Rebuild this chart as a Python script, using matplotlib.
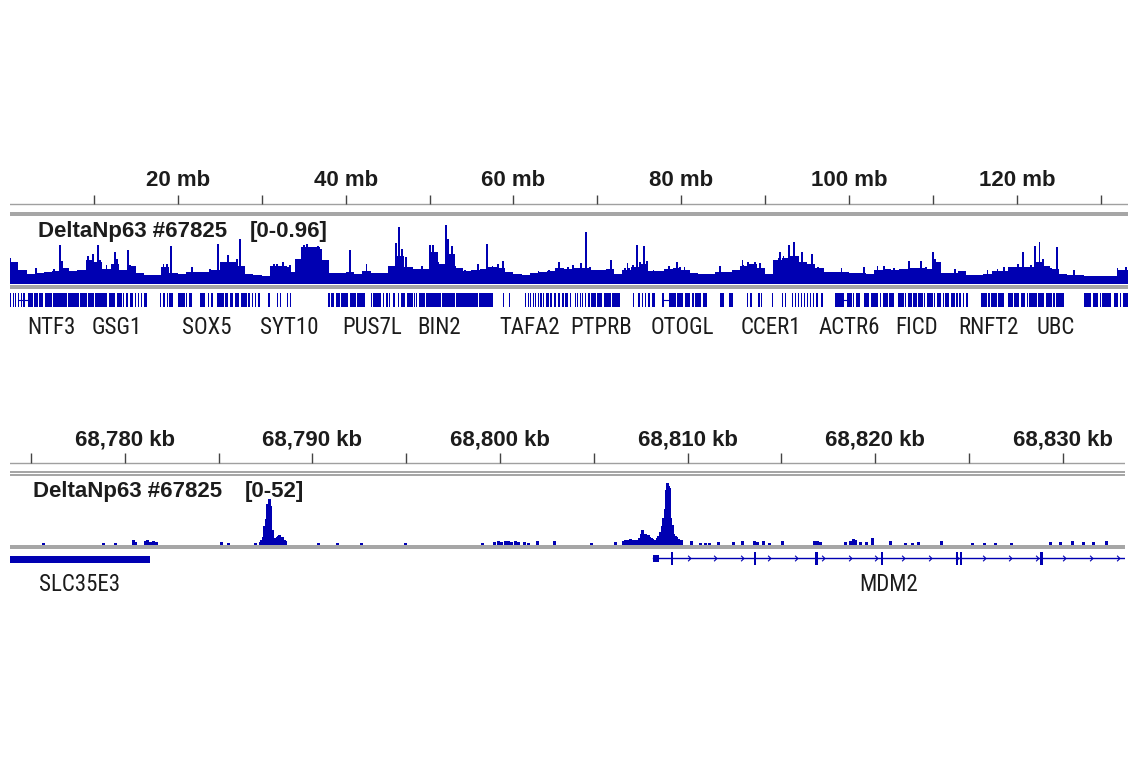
import numpy as np
import matplotlib
matplotlib.use("Agg")
import matplotlib.pyplot as plt
from matplotlib import font_manager as fm
from matplotlib.path import Path

# ---------------- data ----------------
CHROM_LEN_MB = 133.275
# coarse signal (1 Mb bins), DeltaNp63 #67825 [0-0.96]
wide_bins_mb = list(range(134))
wide_vals = [.33, .21, .15, .17, .18, .20, .24, .20, .21, .36,
             .33, .23, .30, .21, .27, .17, .14, .14, .26, .17,
             .15, .18, .18, .18, .21, .33, .33, .27, .15, .14,
             .12, .27, .27, .18, .38, .56, .56, .36, .17, .17,
             .18, .15, .20, .17, .17, .27, .42, .26, .23, .23,
             .48, .30, .45, .24, .20, .21, .23, .26, .24, .18,
             .15, .14, .17, .18, .20, .24, .23, .24, .24, .21,
             .21, .23, .15, .21, .26, .30, .20, .20, .23, .24,
             .21, .17, .15, .15, .18, .18, .21, .27, .30, .24,
             .15, .36, .39, .42, .33, .30, .24, .18, .18, .18,
             .17, .17, .15, .21, .23, .21, .23, .24, .24, .23,
             .33, .17, .17, .20, .14, .14, .15, .20, .20, .26,
             .26, .26, .33, .27, .23, .15, .14, .14, .12, .12,
             .12, .12, .21, .21]
# narrow peaks on top of the coarse signal
peak_pos_mb = [0.0, 0.8, 3.1, 5.2, 5.95, 6.2, 8.3, 9.3, 9.9, 10.5, 10.7, 11.5, 12.5, 12.8,
               14.05, 14.3, 18.3, 18.7, 19.2, 21.7, 23.8, 24.8, 25.1, 26.0, 26.5, 27.05,
               27.4, 31.5, 31.8, 32.5, 33.1, 33.4, 34.8, 35.0, 35.4, 36.0, 36.7, 37.05,
               40.5, 42.5, 45.8, 46.0, 46.4, 46.75, 47.2, 48.3, 49.1, 50.1, 50.4, 51.0,
               51.5, 52.0, 52.2, 52.7, 53.0, 54.2, 55.8, 56.9, 57.5, 58.2, 58.8, 63.0,
               64.2, 65.4, 66.5, 67.1, 68.1, 68.65, 69.1, 71.6, 73.3, 73.6, 73.8, 74.3,
               74.7, 75.1, 75.6, 75.9, 76.7, 78.5, 79.5, 79.9, 80.4, 84.6, 87.3, 87.4,
               88.0, 88.8, 89.4, 91.6, 91.8, 92.2, 92.6, 92.85, 93.2, 93.4, 94.4, 94.8,
               95.6, 96.3, 99.1, 101.8, 103.4, 104.2, 105.4, 106.2, 107.2, 108.6, 109.2,
               110.0, 110.3, 112.6, 116.5, 117.7, 118.5, 119.3, 120.1, 120.7, 121.7,
               122.2, 122.7, 123.1, 124.1, 124.8, 126.8, 132.0, 133.0]
peak_vals = [.39, .27, .24, .23, .59, .35, .21, .42, .45, .59, .36, .29, .48, .38,
             .51, .29, .30, .30, .57, .26, .23, .60, .33, .44, .33, .38,
             .68, .30, .30, .33, .26, .29, .56, .59, .60, .54, .57, .53,
             .51, .30, .27, .62, .86, .53, .41, .23, .27, .59, .59, .33,
             .27, .89, .68, .57, .27, .21, .30, .60, .27, .30, .35, .20,
             .21, .33, .26, .29, .32, .78, .26, .36, .24, .32, .24, .29,
             .59, .33, .57, .35, .21, .27, .33, .26, .26, .27, .36, .29,
             .33, .33, .32, .39, .48, .42, .39, .59, .41, .63, .48, .30,
             .45, .26, .24, .26, .27, .27, .24, .23, .35, .35, .26,
             .48, .38, .23, .21, .23, .26, .26, .30, .48, .29,
             .57, .63, .38, .24, .56, .21, .24, .26]

# gene features on chr12 (Mb)
gene_blocks_mb = [
    (0.0, 0.15), (0.3, 0.45), (0.6, 0.75), (0.9, 1.1), (1.3, 1.45), (1.6, 1.75), (2.2, 2.7),
    (2.85, 3.3), (3.45, 3.9), (4.2, 5.0), (5.15, 6.8), (6.9, 8.2), (8.35, 9.2), (9.3, 10.0),
    (10.1, 11.6), (11.75, 12.5), (12.8, 13.3), (13.45, 13.6), (13.8, 14.1), (14.3, 14.7),
    (14.9, 15.05), (15.25, 15.4), (15.6, 15.75), (16.0, 16.3),
    (17.9, 18.05), (18.2, 18.5), (18.7, 18.85), (19.0, 19.4), (20.0, 20.9), (21.0, 21.1),
    (21.35, 21.7), (22.6, 23.2), (23.6, 23.75), (23.9, 24.2), (24.7, 25.5), (25.65, 26.0),
    (26.2, 26.6), (26.8, 27.3), (27.5, 28.2), (28.4, 28.55), (28.8, 28.95), (29.2, 29.35),
    (29.6, 29.75), (30.1, 30.2), (30.7, 31.0), (31.8, 31.9), (32.2, 32.3), (32.6, 32.7),
    (33.0, 33.1), (33.4, 33.5), (33.8, 33.9),
    (37.9, 38.1), (38.3, 38.6), (38.8, 39.3), (39.45, 40.3), (40.5, 41.2), (41.4, 42.3),
    (43.0, 43.15), (43.3, 44.2), (44.4, 44.55), (44.8, 45.0), (45.2, 45.35), (45.6, 45.9),
    (46.2, 46.35), (46.6, 47.1), (47.3, 48.0), (48.1, 48.25), (48.4, 48.55), (48.7, 49.5),
    (49.6, 51.4), (51.5, 53.0), (53.1, 54.3), (54.4, 55.8), (55.9, 57.6), (58.8, 58.9),
    (59.45, 59.55),
    (61.4, 61.55), (61.7, 61.85), (62.0, 62.15), (62.3, 62.45), (62.6, 62.75), (62.9, 63.05),
    (63.2, 63.35), (63.5, 63.7), (63.85, 64.2), (64.4, 64.6), (64.8, 65.1), (65.3, 65.6),
    (65.8, 66.0), (66.2, 66.5), (66.7, 66.9),
    (67.3, 67.45), (67.6, 67.75), (67.9, 68.05), (68.2, 68.35), (68.5, 68.7), (68.85, 69.15),
    (69.3, 69.8), (70.0, 70.6), (70.8, 71.6), (71.8, 72.7),
    (74.3, 74.4), (74.9, 75.05), (75.3, 75.5), (75.7, 75.85), (76.1, 76.3), (76.5, 76.9),
    (77.7, 77.9), (78.6, 79.4), (79.55, 80.2), (80.4, 81.1), (81.3, 81.5), (81.7, 82.4),
    (82.6, 83.1), (84.6, 85.1), (85.7, 86.2), (87.8, 88.0), (88.2, 88.4), (89.2, 89.35),
    (89.5, 89.6), (90.8, 90.9),
    (92.0, 92.1), (92.4, 92.5), (92.8, 92.9), (93.2, 93.35), (93.6, 93.7), (93.95, 94.1),
    (94.3, 94.45), (94.65, 94.8), (95.0, 95.15), (95.35, 95.5), (95.7, 95.85), (96.1, 96.25),
    (96.7, 96.9),
    (98.3, 99.4), (99.8, 100.4), (100.5, 100.65), (100.8, 101.3), (101.5, 101.6),
    (101.8, 102.4), (102.6, 103.5), (103.7, 103.85), (104.0, 104.6), (104.8, 105.4),
    (105.8, 106.5), (106.65, 106.8), (107.0, 107.5), (107.65, 108.1), (108.2, 108.8),
    (108.95, 109.1), (109.3, 110.0), (110.15, 110.3), (110.5, 111.0), (111.15, 111.3),
    (111.5, 111.9), (112.1, 112.6), (112.8, 112.95), (113.1, 113.4), (113.6, 113.75),
    (113.9, 114.2), (114.5, 114.55),
    (115.7, 116.5), (116.6, 116.75), (116.9, 117.6), (117.8, 118.5), (119.0, 119.5),
    (119.65, 120.3), (120.45, 121.0), (121.2, 121.35), (121.5, 122.4), (122.55, 123.3),
    (123.5, 124.2), (124.35, 124.5), (124.7, 125.6),
    (128.0, 128.9), (129.05, 129.7), (129.9, 130.0), (130.2, 131.2), (131.6, 132.1),
    (132.3, 132.45), (132.6, 133.2)]
gene_introns_mb = [(1.1, 2.2), (77.9, 78.6), (99.4, 99.8)]
gene_names = ["NTF3", "GSG1", "SOX5", "SYT10", "PUS7L", "BIN2", "TAFA2", "PTPRB",
              "OTOGL", "CCER1", "ACTR6", "FICD", "RNFT2", "UBC"]
gene_label_mb = [4.9, 12.75, 23.5, 33.25, 43.15, 51.1, 61.9, 70.4,
                 80.1, 90.7, 100.0, 108.0, 116.6, 124.6]
ticks_mb = list(range(10, 131, 10))
labels_mb = list(range(20, 121, 20))

# zoomed region (kb), DeltaNp63 #67825 [0-52]
VIEW_KB = (68773.88, 68833.31)
cov_kb = [68775.69, 68778.89, 68779.53, 68780.44, 68780.55, 68781.08, 68781.2, 68781.35,
          68781.55, 68781.7, 68785.13, 68785.55, 68786.94,
          68787.25, 68787.31, 68787.37, 68787.42, 68787.47, 68787.53, 68787.58, 68787.63,
          68787.69, 68787.74, 68787.79, 68787.85, 68787.90, 68787.96,
          68788.06, 68788.12, 68788.17, 68788.22, 68788.27, 68788.33, 68788.38, 68788.43,
          68788.49, 68788.54,
          68790.30, 68791.36, 68792.64, 68794.94, 68799.04,
          68799.73, 68799.9, 68800.1, 68800.27, 68800.45, 68800.6, 68800.8, 68801.0, 68801.33,
          68801.5, 68802.02, 68802.93, 68804.90, 68806.13,
          68806.56, 68806.7, 68806.85, 68806.98, 68807.1, 68807.25, 68807.41, 68807.52,
          68807.57, 68807.63, 68807.7, 68807.78, 68807.85, 68807.89, 68807.95, 68808.05,
          68808.15, 68808.26,
          68808.37, 68808.47, 68808.58, 68808.66, 68808.74, 68808.8, 68808.85, 68808.9,
          68808.93, 68808.98, 68809.01, 68809.06, 68809.11, 68809.17, 68809.22, 68809.27,
          68809.35, 68809.43, 68809.54, 68809.65,
          68810.23, 68810.71, 68810.95, 68811.19, 68811.67, 68812.47, 68812.95, 68813.59,
          68813.75, 68814.02, 68814.39, 68815.08, 68816.74, 68816.9, 68817.11, 68818.44,
          68818.7, 68818.82, 68818.95, 68819.24, 68819.51, 68819.88, 68820.79, 68821.64,
          68822.0, 68822.33, 68823.51, 68825.16, 68825.8, 68826.39, 68827.29, 68829.32,
          68829.9, 68830.49, 68831.1, 68831.66, 68832.35]
cov_vals = [0.9, 0.9, 0.9, 3.4, 1.7, 2.6, 3.4, 1.7,
            2.6, 1.7, 1.7, 0.9, 0.9,
            1.7, 3.4, 6.0, 10.2, 15.3, 21.3, 28.1, 34.1,
            38.4, 32.4, 22.2, 11.9, 5.1, 2.6,
            5.1, 6.0, 6.8, 7.7, 6.8, 6.0, 6.0, 5.1,
            3.4, 2.6,
            0.9, 0.9, 0.9, 0.9, 0.9,
            1.7, 2.6, 1.7, 2.6, 2.6, 1.7, 2.6, 1.7, 1.7,
            0.9, 2.6, 2.6, 0.9, 1.7,
            2.6, 3.4, 3.4, 4.3, 3.4, 3.4, 5.1, 8.5,
            11.9, 6.8, 6.0, 8.5, 6.8, 7.7, 6.0, 5.1,
            4.3, 3.4,
            5.1, 6.8, 10.2, 15.3, 22.2, 29.8, 36.6, 46.0,
            52.0, 49.4, 47.7, 30.7, 22.2, 16.2, 11.9, 8.5,
            6.8, 6.0, 4.3, 3.4,
            2.6, 0.9, 0.9, 0.9, 1.7, 1.7, 2.6, 2.6,
            1.7, 2.6, 0.9, 2.6, 2.6, 2.6, 1.7, 1.7,
            2.6, 4.3, 3.4, 1.7, 1.7, 5.1, 2.6, 0.9,
            0.9, 1.7, 2.6, 0.9, 0.9, 0.9, 0.9, 1.7,
            1.7, 2.6, 1.7, 1.7, 2.6]
slc35e3_utr_kb = (68773.88, 68781.34)
mdm2_start_kb = 68808.15
mdm2_utr_kb = (68808.15, 68808.47)
mdm2_exons_kb = [68809.19, 68813.59, 68816.87, 68820.36, 68824.36, 68824.57, 68828.84]
mdm2_exon_w_kb = [0.10, 0.10, 0.14, 0.08, 0.08, 0.08, 0.16]
zgene_names = ["SLC35E3", "MDM2"]
zgene_label_kb = [68777.6, 68820.74]
ticks_kb = list(range(68775, 68831, 5))
labels_kb = list(range(68780, 68831, 10))

# ---------------- style ----------------
W, H = 1141, 768
BLUE = "#0000B2"
GRAY = "#8c8c8c"
TXT = "#1c1c1c"
avail = {f.name for f in fm.fontManager.ttflist}
BOLD_FAM = ["Liberation Sans", "DejaVu Sans"]
NARROW_FAM, NARROW_SIZE = ["Liberation Sans", "DejaVu Sans"], 13.6
for cand, size in (("Liberation Sans Narrow", 16.5), ("Roboto Condensed", 16.5),
                   ("Archivo Narrow", 16.5), ("Asap Condensed", 16.0),
                   ("Barlow Semi Condensed", 16.3)):
    if cand in avail:
        NARROW_FAM, NARROW_SIZE = [cand, "DejaVu Sans"], size
        break

fig = plt.figure(figsize=(W / 100, H / 100), dpi=100)
fig.patch.set_facecolor("white")


def add_ax(x0, y0, x1, y1):
    ax = fig.add_axes([x0 / W, 1 - y1 / H, (x1 - x0) / W, (y1 - y0) / H])
    ax.set_axis_off()
    return ax


def ftext(x, y, s, **kw):
    fig.text(x / W, 1 - y / H, s, **kw)


# =============== top panel (whole chromosome) ===============
X0, X1 = 10, 10 + CHROM_LEN_MB * 8.39
frame1 = add_ax(X0, 160, X1, 345)
frame1.set_xlim(0, CHROM_LEN_MB)
frame1.set_ylim(345, 160)
frame1.plot([0, CHROM_LEN_MB], [204, 204], color="#a0a0a0", lw=1.0)
frame1.vlines(ticks_mb, 195, 204, color="#444444", lw=1.0)
for m in labels_mb:
    frame1.text(m, 181, f"{m} mb", ha="center", va="center", fontsize=16,
                fontweight="bold", family=BOLD_FAM, color=TXT)
for yy in (212.7, 215.3, 285.6, 288.2):
    frame1.plot([0, CHROM_LEN_MB], [yy, yy], color=GRAY, lw=1.1)
for s, e in gene_introns_mb:
    frame1.plot([s, e], [300, 300], color=BLUE, lw=0.8)
frame1.bar([s for s, e in gene_blocks_mb], 14, width=[e - s for s, e in gene_blocks_mb],
           bottom=293, align="edge", color=BLUE, linewidth=0)
for name, m in zip(gene_names, gene_label_mb):
    frame1.text(m, 327, name, ha="center", va="center", fontsize=NARROW_SIZE,
                family=NARROW_FAM, color=TXT)

sig1 = add_ax(X0, 220, X1, 284.5)
sig1.set_xlim(0, CHROM_LEN_MB)
sig1.set_ylim(0, 0.96)
sig1.bar(wide_bins_mb, wide_vals, width=1.0, align="edge", color=BLUE, linewidth=0)
sig1.bar(peak_pos_mb, peak_vals, width=0.22, align="center", color=BLUE, linewidth=0)

ftext(38, 232, "DeltaNp63 #67825", fontsize=16, fontweight="bold", family=BOLD_FAM,
      color=TXT, va="center", ha="left")
ftext(250, 232, "[0-0.96]", fontsize=16, fontweight="bold", family=BOLD_FAM,
      color=TXT, va="center", ha="left")

# =============== bottom panel (MDM2 locus) ===============
Z0, Z1 = 10, 10 + (VIEW_KB[1] - VIEW_KB[0]) * 18.76
frame2 = add_ax(Z0, 420, Z1, 605)
frame2.set_xlim(*VIEW_KB)
frame2.set_ylim(605, 420)
frame2.plot(VIEW_KB, [463, 463], color="#a0a0a0", lw=1.0)
frame2.vlines(ticks_kb, 453, 463, color="#444444", lw=1.0)
for k in labels_kb:
    frame2.text(k, 440, f"{k:,} kb", ha="center", va="center", fontsize=16,
                fontweight="bold", family=BOLD_FAM, color=TXT)
for yy in (472.2, 474.8, 545.6, 548.2):
    frame2.plot(VIEW_KB, [yy, yy], color=GRAY, lw=1.1)

# genes
frame2.bar([slc35e3_utr_kb[0]], 7, width=[slc35e3_utr_kb[1] - slc35e3_utr_kb[0]],
           bottom=556, align="edge", color=BLUE, linewidth=0)
frame2.plot([mdm2_start_kb, VIEW_KB[1]], [558.5, 558.5], color=BLUE, lw=1.0)
frame2.bar([mdm2_utr_kb[0]], 7, width=[mdm2_utr_kb[1] - mdm2_utr_kb[0]],
           bottom=555, align="edge", color=BLUE, linewidth=0)
frame2.bar(mdm2_exons_kb, 13, width=mdm2_exon_w_kb, bottom=552, align="center",
           color=BLUE, linewidth=0)
chev = Path([(-0.5, 1), (0.5, 0), (-0.5, -1)], [Path.MOVETO, Path.LINETO, Path.LINETO])
arrow_x = np.arange(mdm2_start_kb + 1.9, VIEW_KB[1] - 0.3, 1.43)
frame2.plot(arrow_x, np.full(len(arrow_x), 558.5), linestyle="none", marker=chev,
            markersize=4, markerfacecolor="none", markeredgecolor=BLUE, mew=0.8)
for name, k in zip(zgene_names, zgene_label_kb):
    frame2.text(k, 585, name, ha="center", va="center", fontsize=NARROW_SIZE,
                family=NARROW_FAM, color=TXT)

sig2 = add_ax(Z0, 483, Z1, 544.5)
sig2.set_xlim(*VIEW_KB)
sig2.set_ylim(0, 52)
sig2.bar(cov_kb, cov_vals, width=0.16, align="center", color=BLUE, linewidth=0)

ftext(33, 492, "DeltaNp63 #67825", fontsize=16, fontweight="bold", family=BOLD_FAM,
      color=TXT, va="center", ha="left")
ftext(245, 492, "[0-52]", fontsize=16, fontweight="bold", family=BOLD_FAM,
      color=TXT, va="center", ha="left")

fig.savefig("out.png", dpi=100, facecolor="white")
